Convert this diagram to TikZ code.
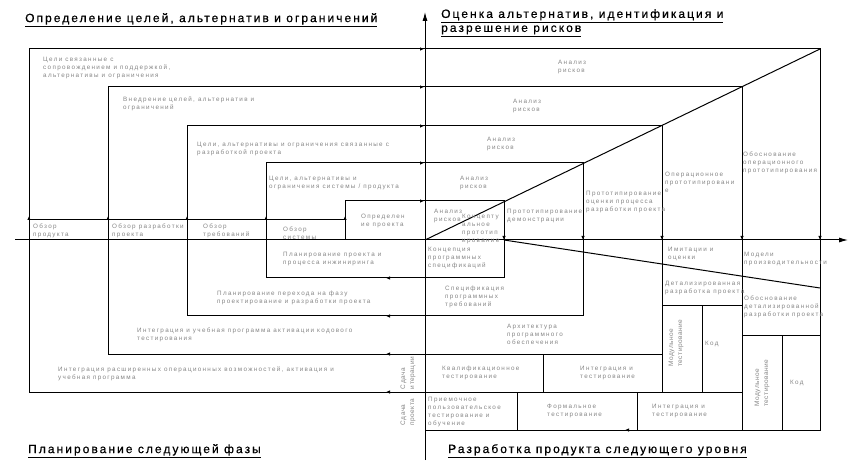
\documentclass[tikz,border=0pt]{standalone}
\usepackage{fontspec}
\setmainfont{Liberation Sans}
\newfontfamily\smallfont[LetterSpace=21]{Liberation Sans}
\newfontfamily\vertfont[LetterSpace=8]{Liberation Sans}
\newfontfamily\headfont[LetterSpace=17,FakeBold=0.6]{Liberation Sans}
\usetikzlibrary{arrows.meta}
\tikzset{
  line/.style={line width=1pt},
  tip/.style={line width=1pt,-{Latex[length=4pt,width=3.5pt]}},
  axis/.style={line width=1pt,-{Latex[length=9pt,width=5pt]}},
  txt/.style={anchor=north west,inner sep=0pt,align=left,text=black!48,
    font={\smallfont\fontsize{6.3}{8}\selectfont}},
  vtxt/.style={anchor=center,inner sep=0pt,align=left,text=black!48,rotate=90,
    font={\vertfont\fontsize{6.5}{9}\selectfont}},
  head/.style={anchor=north west,inner sep=0pt,align=left,
    font={\headfont\fontsize{12}{14}\selectfont}}
}
\begin{document}
\begin{tikzpicture}[x=1pt,y=-1pt]
\useasboundingbox (0,0) rectangle (862,470);
\draw[line] (345,240) -- (345,201) -- (504,201) -- (504,278) -- (266,278) -- (266,163) -- (583,163) -- (583,316) -- (187,316) -- (187,126) -- (662,126) -- (662,354) -- (108,354) -- (108,87) -- (742,87) -- (742,392) -- (29,392) -- (29,49) -- (820,49) -- (820,430) -- (425,430);
\draw[axis] (15,240) -- (848,240);
\draw[axis] (425,460) -- (425,12);
\draw[line] (29,220) -- (345,220);
\draw[line] (425,240) -- (820,49);
\draw[line] (504,240) -- (820,288);
\draw[line] (662,354) -- (662,392);
\draw[line] (742,392) -- (742,430);
\draw[line] (662,306) -- (742,306);
\draw[line] (702,306) -- (702,392);
\draw[line] (742,335) -- (820,335);
\draw[line] (782,335) -- (782,430);
\draw[line] (543,354) -- (543,392);
\draw[line] (517,392) -- (517,430);
\draw[line] (637,392) -- (637,430);
\draw[tip] (413,49) -- (424,49);
\draw[tip] (413,87) -- (424,87);
\draw[tip] (413,126) -- (424,126);
\draw[tip] (413,163) -- (424,163);
\draw[tip] (413,201) -- (424,201);
\draw[tip] (504,229) -- (504,240);
\draw[tip] (583,229) -- (583,240);
\draw[tip] (662,229) -- (662,240);
\draw[tip] (742,229) -- (742,240);
\draw[tip] (820,229) -- (820,240);
\draw[tip] (397,278) -- (386,278);
\draw[tip] (397,316) -- (386,316);
\draw[tip] (397,354) -- (386,354);
\draw[tip] (397,392) -- (386,392);
\draw[tip] (633,430) -- (625,430);
\draw[tip] (29,226) -- (29,216);
\draw[tip] (108,226) -- (108,216);
\draw[tip] (187,226) -- (187,216);
\draw[tip] (266,226) -- (266,216);
\draw[tip] (345,226) -- (345,216);
\node[head] (h-goals) at (25,13) {\underline{Определение целей, альтернатив и ограничений}};
\node[head] (h-risks) at (441,9) {\underline{Оценка альтернатив, идентификация и}\\\underline{разрешение рисков}};
\node[head] (h-plan) at (28,444) {\underline{Планирование следующей фазы}};
\node[head] (h-develop) at (448,444) {\underline{Разработка продукта следующего уровня}};
\node[txt] (goals1) at (43,57) {Цели связанные с\\сопровождением и поддержкой,\\альтернативы и ограничения};
\node[txt] (goals2) at (123,97) {Внедрение целей, альтернатив и\\ограничений};
\node[txt] (goals3) at (197,142) {Цели, альтернативы и ограничения связанные с\\разработкой проекта};
\node[txt] (goals4) at (269,176) {Цели, альтернативы и\\ограничения системы / продукта};
\node[txt] (goals5) at (361,214) {Определен\\ие проекта};
\node[txt] (review1) at (33,224) {Обзор\\продукта};
\node[txt] (review2) at (112,224) {Обзор разработки\\проекта};
\node[txt] (review3) at (203,224) {Обзор\\требований};
\node[txt] (review4) at (283,227) {Обзор\\системы};
\node[txt] (risk1) at (558,60) {Анализ\\рисков};
\node[txt] (risk2) at (513,99) {Анализ\\рисков};
\node[txt] (risk3) at (487,137) {Анализ\\рисков};
\node[txt] (risk4) at (460,176) {Анализ\\рисков};
\node[txt] (risk5) at (434,209) {Анализ\\рисков};
\node[txt] (proto1) at (462,214) {Концепту\\альное\\прототип\\ирование};
\node[txt] (proto2) at (507,209) {Прототипирование\\демонстрации};
\node[txt] (proto3) at (586,191) {Прототипирование\\оценки процесса\\разработки проекта};
\node[txt] (proto4) at (665,172) {Операционное\\прототипировани\\е};
\node[txt] (proto5) at (743,152) {Обоснование\\операционного\\прототипирования};
\node[txt] (concept) at (428,247) {Концепция\\программных\\спецификаций};
\node[txt] (simul) at (668,247) {Имитации и\\оценки};
\node[txt] (perf) at (744,252) {Модели\\производительности};
\node[txt] (detail) at (665,281) {Детализированная\\разработка проекта};
\node[txt] (detail2) at (744,296) {Обоснование\\детализированной\\разработки проекта};
\node[txt] (spec) at (445,286) {Спецификация\\программных\\требований};
\node[txt] (arch) at (507,324) {Архитектура\\программного\\обеспечения};
\node[txt] (code1) at (705,341) {Код};
\node[txt] (code2) at (790,380) {Код};
\node[txt] (qual) at (442,366) {Квалификационное\\тестирование};
\node[txt] (integ1) at (580,366) {Интеграция и\\тестирование};
\node[txt] (accept) at (428,397) {Приемочное\\пользовательское\\тестирование и\\обучение};
\node[txt] (formal) at (547,404) {Формальное\\тестирование};
\node[txt] (integ2) at (652,404) {Интеграция и\\тестирование};
\node[vtxt] (unit1) at (676,343) {Модульное\\тестирование};
\node[vtxt] (unit2) at (762,383) {Модульное\\тестирование};
\node[vtxt] (deliv1) at (408,373) {Сдача\\итерации};
\node[vtxt] (deliv2) at (408,412) {Сдача\\проекта};
\node[txt] (plan1) at (283,252) {Планирование проекта и\\процесса инжиниринга};
\node[txt] (plan2) at (217,291) {Планирование перехода на фазу\\проектирование и разработки проекта};
\node[txt] (plan3) at (137,328) {Интеграция и учебная программа активации кодового\\тестирования};
\node[txt] (plan4) at (58,367) {Интеграция расширенных операционных возможностей, активация и\\учебная программа};
\end{tikzpicture}
\end{document}
